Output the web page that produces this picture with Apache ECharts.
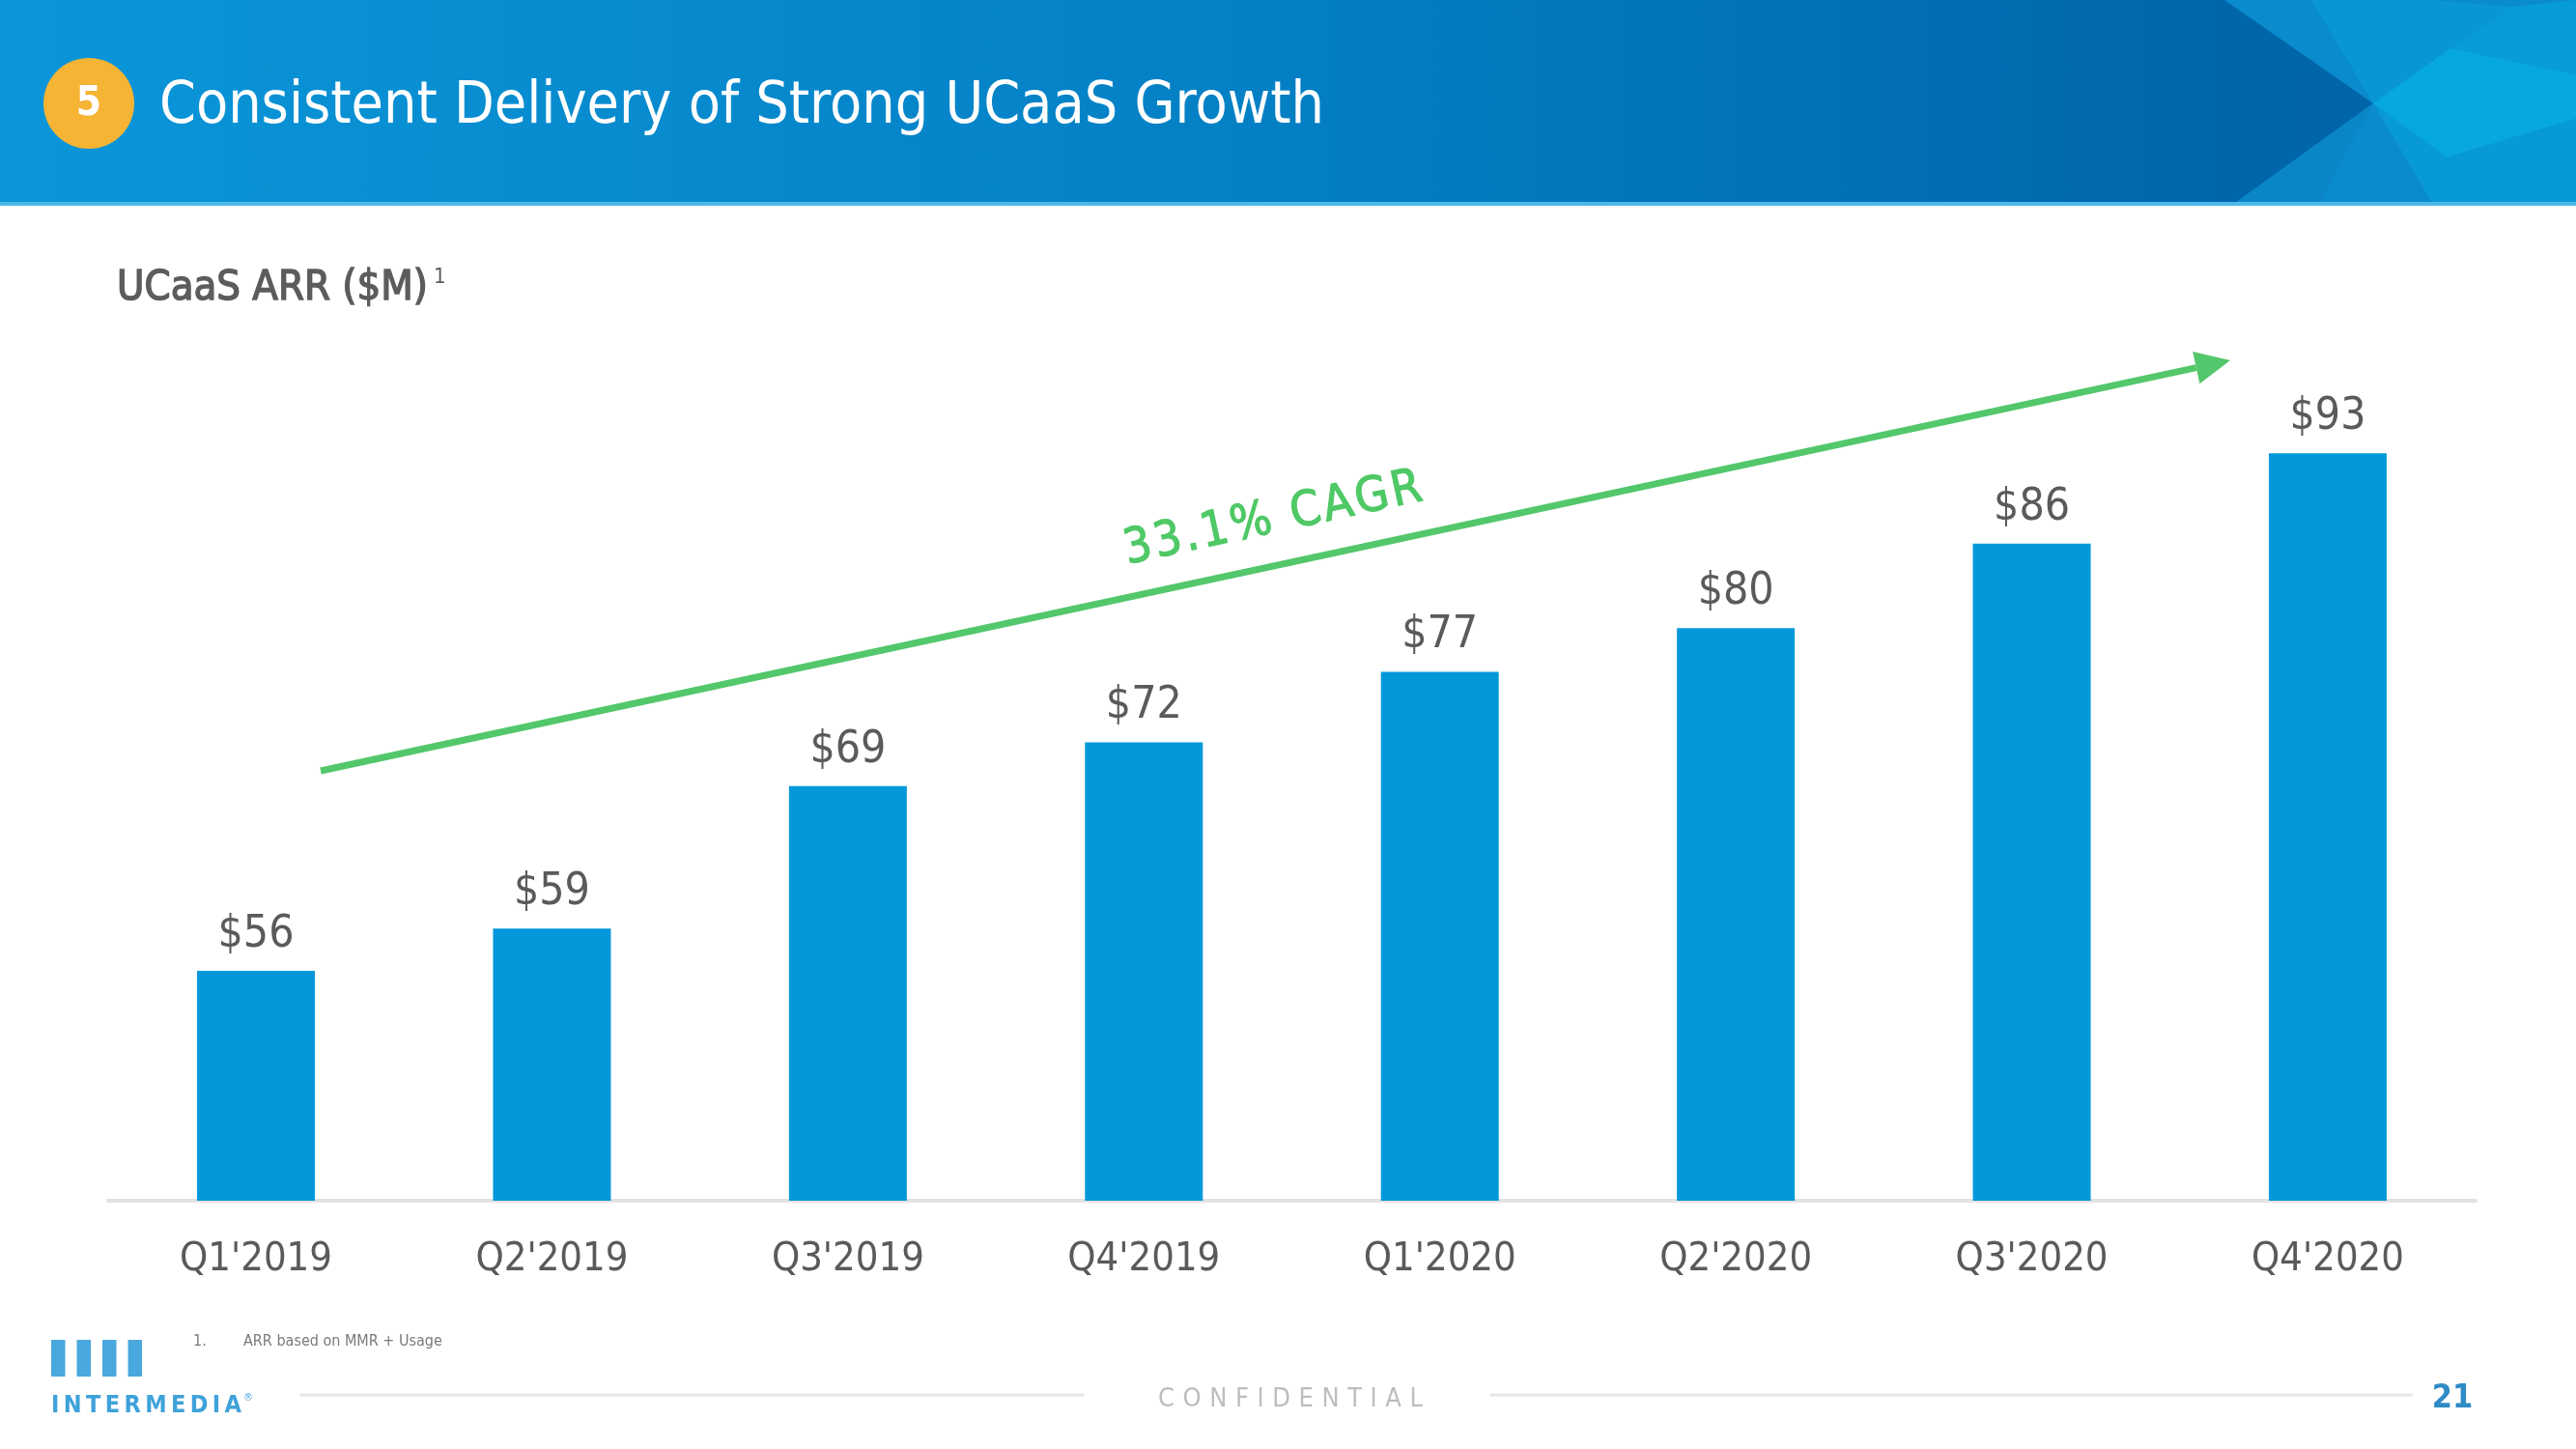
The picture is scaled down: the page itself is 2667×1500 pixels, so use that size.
<!DOCTYPE html>
<html><head><meta charset="utf-8">
<script src="https://cdn.jsdelivr.net/npm/echarts@6/dist/echarts.min.js"></script>
<style>html,body{margin:0;padding:0;background:#fff}#c{width:2667px;height:1500px}</style>
</head><body><div id="c"></div>
<script>
// ---- data ----
const categories = ["Q1'2019", "Q2'2019", "Q3'2019", "Q4'2019", "Q1'2020", "Q2'2020", "Q3'2020", "Q4'2020"];
const arrValues = [55.9, 58.9, 69.0, 72.1, 77.1, 80.2, 86.2, 92.6];
const valueLabels = ['$56', '$59', '$69', '$72', '$77', '$80', '$86', '$93'];
const titleText = 'Consistent Delivery of Strong UCaaS Growth';
const badgeText = '5';
const subtitleText = 'UCaaS ARR ($M)';
const subtitleSup = '1';
const cagrText = '33.1% CAGR';
const footnoteNum = '1.';
const footnoteText = 'ARR based on MMR + Usage';
const logoText = 'INTERMEDIA';
const confText = 'CONFIDENTIAL';
const pageNum = '21';

// ---- helpers ----
const mctx = document.createElement('canvas').getContext('2d');
function measure(text, family, weight, size) { mctx.font = weight + ' ' + size + 'px ' + family; return mctx.measureText(text).width; }
function fit(text, family, weight, target) { return 100 * target / measure(text, family, weight, 100); }
function spaced(text, x0, x1, y, family, weight, size, fill, z) {
  const widths = [...text].map(ch => measure(ch, family, weight, size));
  const total = widths.reduce((a, b) => a + b, 0);
  const gap = (x1 - x0 - total) / (text.length - 1);
  const out = []; let x = x0;
  [...text].forEach((ch, i) => {
    out.push({ type: 'text', z: z || 10, x: x, y: y, style: { text: ch, fill: fill, font: weight + ' ' + size + 'px ' + family, textAlign: 'left', textVerticalAlign: 'middle' } });
    x += widths[i] + gap;
  });
  return out;
}

const COND = '"DejaVu Sans Condensed", "DejaVu Sans", sans-serif';
const NARROW = '"Liberation Sans Narrow", "DejaVu Sans Condensed", sans-serif';
const SANS = '"DejaVu Sans", sans-serif';

const titleSize = fit(titleText, COND, 'normal', 1206);
const subSize = fit(subtitleText, COND, 'normal', 322);
const xLabelSize = Math.min(48, Math.max(38, fit(categories[0], NARROW, 'normal', 158)));

// CAGR rotated text as group of spaced chars
const cagrSize = 50;
const cagrChars = (function () {
  const widths = [...cagrText].map(ch => measure(ch, COND, 'normal', cagrSize));
  const total = widths.reduce((a, b) => a + b, 0);
  const L = 314; const gap = (L - total) / (cagrText.length - 1);
  const out = []; let x = -L / 2;
  [...cagrText].forEach((ch, i) => {
    out.push({ type: 'text', x: x, y: 0, style: { text: ch, fill: '#4fc866', stroke: '#4fc866', lineWidth: 1.2, font: 'normal ' + cagrSize + 'px ' + COND, textAlign: 'left', textVerticalAlign: 'middle' } });
    x += widths[i] + gap;
  });
  return out;
})();

// arrow geometry
const aStart = [332, 798], aTip = [2309, 373];
const dx = aTip[0] - aStart[0], dy = aTip[1] - aStart[1], dl = Math.hypot(dx, dy);
const ux = dx / dl, uy = dy / dl, nx = -uy, ny = ux;
const headLen = 36, headHalf = 17;
const baseC = [aTip[0] - ux * headLen, aTip[1] - uy * headLen];

const graphics = [
  // header
  { type: 'rect', z: 1, shape: { x: 0, y: 0, width: 2667, height: 213 }, style: { fill: new echarts.graphic.LinearGradient(0, 0, 1, 0, [{ offset: 0, color: '#0b96d9' }, { offset: 0.5, color: '#047fc4' }, { offset: 0.86, color: '#0066aa' }, { offset: 1, color: '#0063a7' }]) } },
  { type: 'polygon', z: 2, shape: { points: [[2303, 0], [2667, 0], [2667, 213], [2310, 213], [2457, 107]] }, style: { fill: '#0a8bcd' } },
  { type: 'polygon', z: 3, shape: { points: [[2393, 0], [2520, 0], [2600, 7], [2537, 50], [2457, 107]] }, style: { fill: '#0896d6' } },
  { type: 'polygon', z: 3, shape: { points: [[2600, 7], [2667, 0], [2667, 77], [2537, 50]] }, style: { fill: '#089bd9' } },
  { type: 'polygon', z: 3, shape: { points: [[2457, 107], [2537, 50], [2667, 77], [2667, 123], [2533, 163]] }, style: { fill: '#07a7e1' } },
  { type: 'polygon', z: 3, shape: { points: [[2457, 107], [2533, 163], [2667, 123], [2667, 213], [2520, 213]] }, style: { fill: '#0899d8' } },
  { type: 'polygon', z: 3, shape: { points: [[2310, 213], [2457, 107], [2400, 213]] }, style: { fill: '#0a86c8' } },
  { type: 'rect', z: 4, shape: { x: 0, y: 209, width: 2667, height: 4 }, style: { fill: '#4db9ea' } },
  { type: 'circle', z: 5, shape: { cx: 92, cy: 107, r: 47 }, style: { fill: '#f6b434' } },
  { type: 'text', z: 6, x: 92, y: 108, style: { text: badgeText, fill: '#ffffff', font: 'bold 42px ' + COND, textAlign: 'center', textVerticalAlign: 'middle' } },
  { type: 'text', z: 6, x: 165, y: 111, style: { text: titleText, fill: '#ffffff', font: 'normal ' + titleSize + 'px ' + COND, textAlign: 'left', textVerticalAlign: 'middle' } },
  // subtitle
  { type: 'text', z: 6, x: 121, y: 299, style: { text: subtitleText, fill: '#5c5c5c', stroke: '#5c5c5c', lineWidth: 1.4, font: 'normal ' + subSize + 'px ' + COND, textAlign: 'left', textVerticalAlign: 'middle' } },
  { type: 'text', z: 6, x: 449, y: 287, style: { text: subtitleSup, fill: '#5c5c5c', font: 'normal 22px ' + COND, textAlign: 'left', textVerticalAlign: 'middle' } },
  // arrow
  { type: 'line', z: 20, shape: { x1: aStart[0], y1: aStart[1], x2: baseC[0], y2: baseC[1] }, style: { stroke: '#53c76b', lineWidth: 7 } },
  { type: 'polygon', z: 20, shape: { points: [aTip, [baseC[0] + nx * headHalf, baseC[1] + ny * headHalf], [baseC[0] - nx * headHalf, baseC[1] - ny * headHalf]] }, style: { fill: '#53c76b' } },
  { type: 'group', z: 20, x: 1318, y: 538, rotation: Math.atan2(-dy, dx), children: cagrChars },
  // footer
  { type: 'line', z: 5, shape: { x1: 311, y1: 1444, x2: 1122, y2: 1444 }, style: { stroke: '#e6e6e6', lineWidth: 3 } },
  { type: 'line', z: 5, shape: { x1: 1543, y1: 1444, x2: 2498, y2: 1444 }, style: { stroke: '#e6e6e6', lineWidth: 3 } },
  { type: 'rect', z: 5, shape: { x: 53, y: 1387, width: 14.5, height: 38 }, style: { fill: '#4aa8de' } },
  { type: 'rect', z: 5, shape: { x: 79.5, y: 1387, width: 14.5, height: 38 }, style: { fill: '#4aa8de' } },
  { type: 'rect', z: 5, shape: { x: 106, y: 1387, width: 14.5, height: 38 }, style: { fill: '#4aa8de' } },
  { type: 'rect', z: 5, shape: { x: 132.5, y: 1387, width: 14.5, height: 38 }, style: { fill: '#4aa8de' } },
  { type: 'text', z: 6, x: 252, y: 1447, style: { text: '®', fill: '#4aa8de', font: 'normal 10px ' + SANS, textAlign: 'left', textVerticalAlign: 'middle' } },
  { type: 'text', z: 6, x: 200, y: 1389, style: { text: footnoteNum, fill: '#7a7a7a', font: 'normal 16px ' + NARROW, textAlign: 'left', textVerticalAlign: 'middle' } },
  { type: 'text', z: 6, x: 252, y: 1389, style: { text: footnoteText, fill: '#7a7a7a', font: 'normal 16px ' + NARROW, textAlign: 'left', textVerticalAlign: 'middle' } },
  { type: 'text', z: 6, x: 2539, y: 1448, style: { text: pageNum, fill: '#2f8bc6', font: 'bold 34px ' + NARROW, textAlign: 'center', textVerticalAlign: 'middle' } }
].concat(spaced(logoText, 53, 250, 1455, NARROW, 'bold', 25, '#3fa2da'))
 .concat(spaced(confText, 1199, 1473, 1449, NARROW, 'normal', 27, '#bdbdbd'));

const yMin = 39.6, yMax = 118;
const chart = echarts.init(document.getElementById('c'), null, { renderer: 'canvas' });
chart.setOption({
  animation: false,
  backgroundColor: '#ffffff',
  grid: { left: 111.8, right: 103.8, top: 1243 - (yMax - yMin) * 14.6, bottom: 257, containLabel: false },
  xAxis: {
    type: 'category', data: categories,
    axisLine: { show: true, lineStyle: { color: '#e2e2e2', width: 4 } },
    axisTick: { show: false },
    axisLabel: { color: '#5a5a5a', fontFamily: NARROW, fontSize: xLabelSize, lineHeight: 48, margin: 37 }
  },
  yAxis: { type: 'value', min: yMin, max: yMax, show: false, splitLine: { show: false } },
  series: [{
    type: 'bar', data: arrValues, barWidth: 122, z: 5,
    itemStyle: { color: '#0498db' },
    label: { show: true, position: 'top', distance: 14, color: '#5a5a5a', fontFamily: COND, fontSize: 46, lineHeight: 46,
      formatter: p => valueLabels[p.dataIndex] }
  }],
  graphic: graphics
});
</script></body></html>
